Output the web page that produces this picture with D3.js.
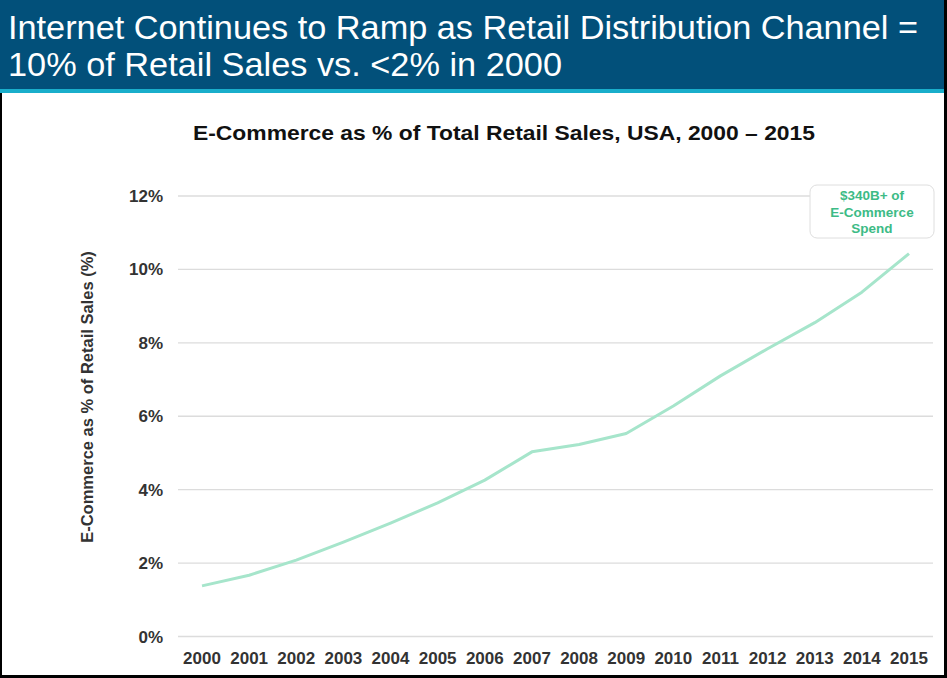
<!DOCTYPE html>
<html>
<head>
<meta charset="utf-8">
<script src="https://cdn.jsdelivr.net/npm/d3@7"></script>
<style>
  body { margin: 0; background: #fff; }
  svg { display: block; font-family: "Liberation Sans", Arial, sans-serif; }
</style>
</head>
<body>
<script>
// data
const years = ["2000","2001","2002","2003","2004","2005","2006","2007","2008","2009","2010","2011","2012","2013","2014","2015"];
const ecomShare = [1.38, 1.67, 2.08, 2.57, 3.09, 3.64, 4.26, 5.03, 5.23, 5.53, 6.28, 7.1, 7.84, 8.55, 9.38, 10.43];
const yTicks = [0, 2, 4, 6, 8, 10, 12];
const headerLines = ["Internet Continues to Ramp as Retail Distribution Channel =", "10% of Retail Sales vs. <2% in 2000"];
const noteLines = ["$340B+ of", "E-Commerce", "Spend"];

const W = 947, H = 678;
const svg = d3.select("body").append("svg")
    .attr("width", W)
    .attr("height", H);

// header band
svg.append("rect").attr("x", 0).attr("y", 0).attr("width", W).attr("height", 89).attr("fill", "#02507a");
svg.append("rect").attr("x", 0).attr("y", 89).attr("width", W).attr("height", 4).attr("fill", "#19aecb");

svg.selectAll("text.head")
    .data(headerLines)
    .enter()
    .append("text")
    .attr("class", "head")
    .attr("x", 8)
    .attr("y", (d, i) => 39 + i * 37)
    .attr("fill", "#fff")
    .attr("font-size", 34)
    .attr("textLength", (d, i) => i == 0 ? 910 : 554)
    .attr("lengthAdjust", "spacingAndGlyphs")
    .text(d => d);

// frame
svg.append("line").attr("x1", 1).attr("x2", 1).attr("y1", 93).attr("y2", H).attr("stroke", "#000").attr("stroke-width", 2);
svg.append("line").attr("x1", 945.5).attr("x2", 945.5).attr("y1", 0).attr("y2", H).attr("stroke", "#000").attr("stroke-width", 3);
svg.append("line").attr("x1", 0).attr("x2", W).attr("y1", 676.5).attr("y2", 676.5).attr("stroke", "#000").attr("stroke-width", 3);

// chart title
svg.append("text")
    .attr("x", 504)
    .attr("y", 140)
    .attr("text-anchor", "middle")
    .attr("font-size", 20.5)
    .attr("font-weight", "bold")
    .attr("fill", "#111")
    .attr("textLength", 622)
    .attr("lengthAdjust", "spacingAndGlyphs")
    .text("E-Commerce as % of Total Retail Sales, USA, 2000 \u2013 2015");

const x = d3.scalePoint()
    .domain(years)
    .range([202, 909]);

const y = d3.scaleLinear()
    .domain([0, 12])
    .range([636.5, 196]);

// gridlines
svg.selectAll("line.grid")
    .data(yTicks)
    .enter()
    .append("line")
    .attr("class", "grid")
    .attr("x1", 178)
    .attr("x2", 933)
    .attr("y1", d => y(d))
    .attr("y2", d => y(d))
    .attr("stroke", "#dcdcdc")
    .attr("stroke-width", 1.3);

// y tick labels
svg.selectAll("text.ytick")
    .data(yTicks)
    .enter()
    .append("text")
    .attr("class", "ytick")
    .attr("x", 163)
    .attr("y", d => y(d) + 6)
    .attr("text-anchor", "end")
    .attr("font-size", 17)
    .attr("font-weight", "bold")
    .attr("fill", "#333")
    .text(d => d + "%");

// x tick labels
svg.selectAll("text.xtick")
    .data(years)
    .enter()
    .append("text")
    .attr("class", "xtick")
    .attr("x", d => x(d))
    .attr("y", 664)
    .attr("text-anchor", "middle")
    .attr("font-size", 17)
    .attr("font-weight", "bold")
    .attr("fill", "#333")
    .text(d => d);

// y axis title
svg.append("text")
    .attr("transform", "translate(93,397) rotate(-90)")
    .attr("text-anchor", "middle")
    .attr("font-size", 16.5)
    .attr("font-weight", "bold")
    .attr("fill", "#333")
    .text("E-Commerce as % of Retail Sales (%)");

// the line
const line = d3.line()
    .x((d, i) => x(years[i]))
    .y(d => y(d));

svg.append("path")
    .datum(ecomShare)
    .attr("d", line)
    .attr("fill", "none")
    .attr("stroke", "#a6e5cb")
    .attr("stroke-width", 3)
    .attr("stroke-linejoin", "round");

// annotation box
svg.append("rect")
    .attr("x", 810)
    .attr("y", 185)
    .attr("width", 124)
    .attr("height", 53)
    .attr("rx", 7)
    .attr("fill", "#fff")
    .attr("stroke", "#dedede");

svg.selectAll("text.note")
    .data(noteLines)
    .enter()
    .append("text")
    .attr("class", "note")
    .attr("x", 872)
    .attr("y", (d, i) => 200 + i * 16.5)
    .attr("text-anchor", "middle")
    .attr("font-size", 13.5)
    .attr("font-weight", "bold")
    .attr("fill", "#3dbb86")
    .text(d => d);
</script>
</body>
</html>
